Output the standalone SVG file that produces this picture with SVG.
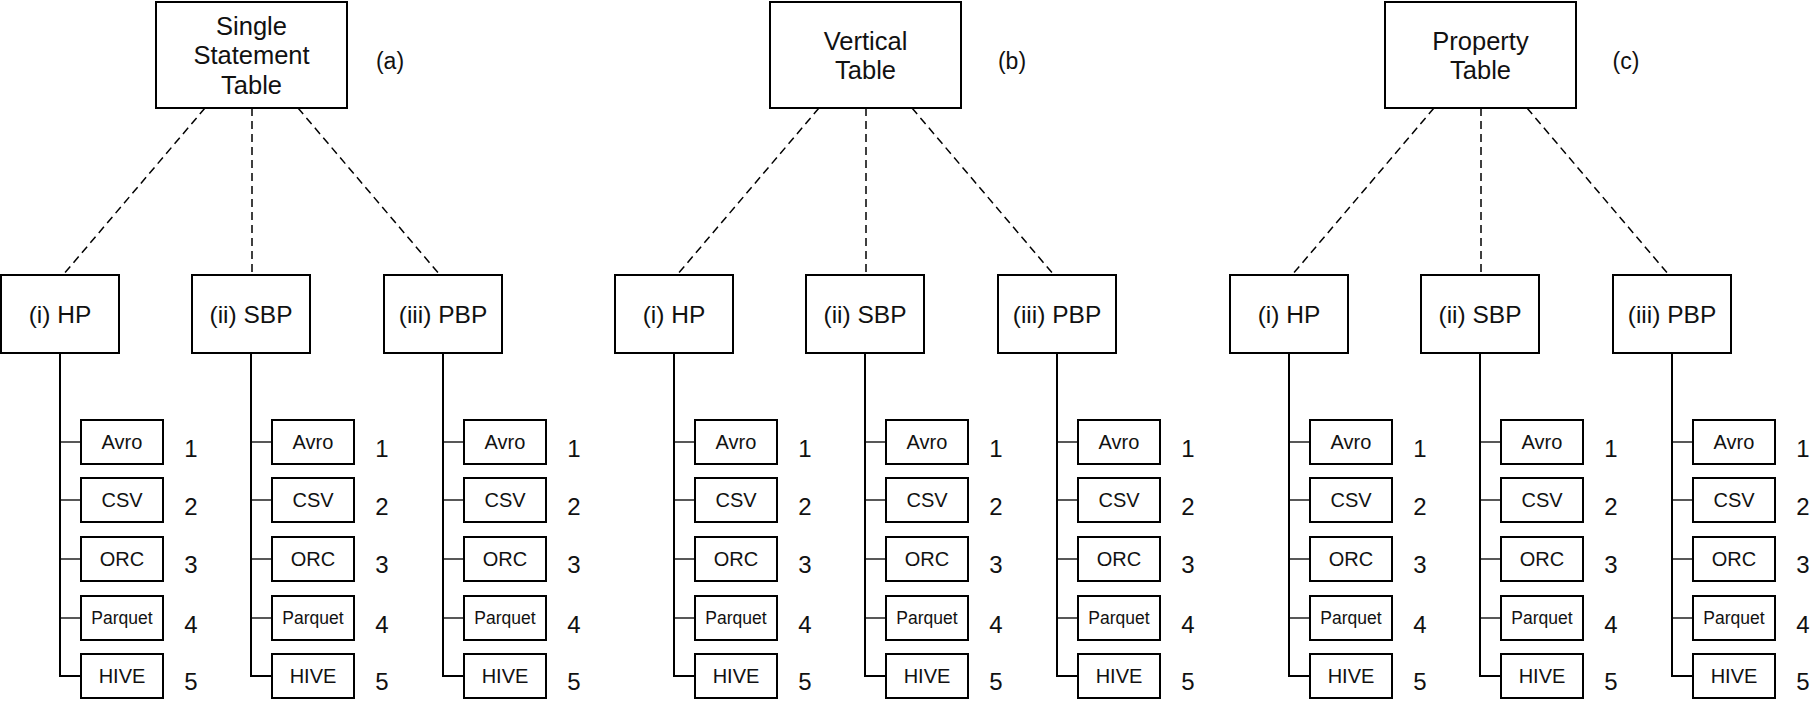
<svg xmlns="http://www.w3.org/2000/svg" width="1817" height="720" viewBox="0 0 1817 720">
<style>
.box{fill:#fff;stroke:#000;stroke-width:2}
.t{font-family:"Liberation Sans",Arial,Helvetica,sans-serif;fill:#111;text-anchor:middle}
.root{font-size:25.5px}
.child{font-size:24.5px}
.fmt{font-size:20px}
.pq{font-size:17.5px}
.num{font-size:24px}
.lab{font-size:23px}
.dash{stroke:#000;stroke-width:1.5;stroke-dasharray:8 5;fill:none}
.trunk{stroke:#000;stroke-width:2;fill:none}
.tick{stroke:#222;stroke-width:1.3;fill:none}
</style>
<rect width="1817" height="720" fill="#fff"/>

<g id="connectors">
  <g id="conn-a">
    <path class="dash" d="M205,108 L63,275"/>
    <path class="dash" d="M252,108 L252,275"/>
    <path class="dash" d="M298,108 L440,275"/>
    <g transform="translate(60,0)"><path class="tick" d="M0,442H21M0,500H21M0,559H21M0,618H21"/><path class="trunk" d="M0,353V676H21"/></g>
    <g transform="translate(251,0)"><path class="tick" d="M0,442H21M0,500H21M0,559H21M0,618H21"/><path class="trunk" d="M0,353V676H21"/></g>
    <g transform="translate(443,0)"><path class="tick" d="M0,442H21M0,500H21M0,559H21M0,618H21"/><path class="trunk" d="M0,353V676H21"/></g>
  </g>
  <g id="conn-b" transform="translate(614,0)">
    <path class="dash" d="M205,108 L63,275"/>
    <path class="dash" d="M252,108 L252,275"/>
    <path class="dash" d="M298,108 L440,275"/>
    <g transform="translate(60,0)"><path class="tick" d="M0,442H21M0,500H21M0,559H21M0,618H21"/><path class="trunk" d="M0,353V676H21"/></g>
    <g transform="translate(251,0)"><path class="tick" d="M0,442H21M0,500H21M0,559H21M0,618H21"/><path class="trunk" d="M0,353V676H21"/></g>
    <g transform="translate(443,0)"><path class="tick" d="M0,442H21M0,500H21M0,559H21M0,618H21"/><path class="trunk" d="M0,353V676H21"/></g>
  </g>
  <g id="conn-c" transform="translate(1229,0)">
    <path class="dash" d="M205,108 L63,275"/>
    <path class="dash" d="M252,108 L252,275"/>
    <path class="dash" d="M298,108 L440,275"/>
    <g transform="translate(60,0)"><path class="tick" d="M0,442H21M0,500H21M0,559H21M0,618H21"/><path class="trunk" d="M0,353V676H21"/></g>
    <g transform="translate(251,0)"><path class="tick" d="M0,442H21M0,500H21M0,559H21M0,618H21"/><path class="trunk" d="M0,353V676H21"/></g>
    <g transform="translate(443,0)"><path class="tick" d="M0,442H21M0,500H21M0,559H21M0,618H21"/><path class="trunk" d="M0,353V676H21"/></g>
  </g>
</g>

<!-- Panel (a) -->
<g id="panel-a">
  <g id="a-root"><rect class="box" x="156" y="2" width="191" height="106"/>
    <text class="t root" x="251.5" y="34.5">Single</text><text class="t root" x="251.5" y="64">Statement</text><text class="t root" x="251.5" y="94">Table</text></g>
  <text id="a-label" class="t lab" x="390" y="69">(a)</text>
  <g id="a-hp" transform="translate(60,0)">
    <g id="a-hp-node"><rect class="box" x="-59" y="275" width="118" height="78"/><text class="t child" x="0" y="323">(i) HP</text></g>
    <g id="a-hp-avro"><rect class="box" x="21" y="420" width="82" height="44"/><text class="t fmt" x="62" y="449">Avro</text><text class="t num" x="131" y="457">1</text></g>
    <g id="a-hp-csv"><rect class="box" x="21" y="478" width="82" height="44"/><text class="t fmt" x="62" y="507">CSV</text><text class="t num" x="131" y="515">2</text></g>
    <g id="a-hp-orc"><rect class="box" x="21" y="537" width="82" height="44"/><text class="t fmt" x="62" y="566">ORC</text><text class="t num" x="131" y="573">3</text></g>
    <g id="a-hp-parquet"><rect class="box" x="21" y="596" width="82" height="44"/><text class="t pq" x="62" y="624">Parquet</text><text class="t num" x="131" y="633">4</text></g>
    <g id="a-hp-hive"><rect class="box" x="21" y="654" width="82" height="44"/><text class="t fmt" x="62" y="683">HIVE</text><text class="t num" x="131" y="690">5</text></g>
  </g>
  <g id="a-sbp" transform="translate(251,0)">
    <g id="a-sbp-node"><rect class="box" x="-59" y="275" width="118" height="78"/><text class="t child" x="0" y="323">(ii) SBP</text></g>
    <g id="a-sbp-avro"><rect class="box" x="21" y="420" width="82" height="44"/><text class="t fmt" x="62" y="449">Avro</text><text class="t num" x="131" y="457">1</text></g>
    <g id="a-sbp-csv"><rect class="box" x="21" y="478" width="82" height="44"/><text class="t fmt" x="62" y="507">CSV</text><text class="t num" x="131" y="515">2</text></g>
    <g id="a-sbp-orc"><rect class="box" x="21" y="537" width="82" height="44"/><text class="t fmt" x="62" y="566">ORC</text><text class="t num" x="131" y="573">3</text></g>
    <g id="a-sbp-parquet"><rect class="box" x="21" y="596" width="82" height="44"/><text class="t pq" x="62" y="624">Parquet</text><text class="t num" x="131" y="633">4</text></g>
    <g id="a-sbp-hive"><rect class="box" x="21" y="654" width="82" height="44"/><text class="t fmt" x="62" y="683">HIVE</text><text class="t num" x="131" y="690">5</text></g>
  </g>
  <g id="a-pbp" transform="translate(443,0)">
    <g id="a-pbp-node"><rect class="box" x="-59" y="275" width="118" height="78"/><text class="t child" x="0" y="323">(iii) PBP</text></g>
    <g id="a-pbp-avro"><rect class="box" x="21" y="420" width="82" height="44"/><text class="t fmt" x="62" y="449">Avro</text><text class="t num" x="131" y="457">1</text></g>
    <g id="a-pbp-csv"><rect class="box" x="21" y="478" width="82" height="44"/><text class="t fmt" x="62" y="507">CSV</text><text class="t num" x="131" y="515">2</text></g>
    <g id="a-pbp-orc"><rect class="box" x="21" y="537" width="82" height="44"/><text class="t fmt" x="62" y="566">ORC</text><text class="t num" x="131" y="573">3</text></g>
    <g id="a-pbp-parquet"><rect class="box" x="21" y="596" width="82" height="44"/><text class="t pq" x="62" y="624">Parquet</text><text class="t num" x="131" y="633">4</text></g>
    <g id="a-pbp-hive"><rect class="box" x="21" y="654" width="82" height="44"/><text class="t fmt" x="62" y="683">HIVE</text><text class="t num" x="131" y="690">5</text></g>
  </g>
</g>

<!-- Panel (b) -->
<g id="panel-b" transform="translate(614,0)">
  <g id="b-root"><rect class="box" x="156" y="2" width="191" height="106"/>
    <text class="t root" x="251.5" y="50">Vertical</text><text class="t root" x="251.5" y="79">Table</text></g>
  <text id="b-label" class="t lab" x="398" y="69">(b)</text>
  <g id="b-hp" transform="translate(60,0)">
    <g id="b-hp-node"><rect class="box" x="-59" y="275" width="118" height="78"/><text class="t child" x="0" y="323">(i) HP</text></g>
    <g id="b-hp-avro"><rect class="box" x="21" y="420" width="82" height="44"/><text class="t fmt" x="62" y="449">Avro</text><text class="t num" x="131" y="457">1</text></g>
    <g id="b-hp-csv"><rect class="box" x="21" y="478" width="82" height="44"/><text class="t fmt" x="62" y="507">CSV</text><text class="t num" x="131" y="515">2</text></g>
    <g id="b-hp-orc"><rect class="box" x="21" y="537" width="82" height="44"/><text class="t fmt" x="62" y="566">ORC</text><text class="t num" x="131" y="573">3</text></g>
    <g id="b-hp-parquet"><rect class="box" x="21" y="596" width="82" height="44"/><text class="t pq" x="62" y="624">Parquet</text><text class="t num" x="131" y="633">4</text></g>
    <g id="b-hp-hive"><rect class="box" x="21" y="654" width="82" height="44"/><text class="t fmt" x="62" y="683">HIVE</text><text class="t num" x="131" y="690">5</text></g>
  </g>
  <g id="b-sbp" transform="translate(251,0)">
    <g id="b-sbp-node"><rect class="box" x="-59" y="275" width="118" height="78"/><text class="t child" x="0" y="323">(ii) SBP</text></g>
    <g id="b-sbp-avro"><rect class="box" x="21" y="420" width="82" height="44"/><text class="t fmt" x="62" y="449">Avro</text><text class="t num" x="131" y="457">1</text></g>
    <g id="b-sbp-csv"><rect class="box" x="21" y="478" width="82" height="44"/><text class="t fmt" x="62" y="507">CSV</text><text class="t num" x="131" y="515">2</text></g>
    <g id="b-sbp-orc"><rect class="box" x="21" y="537" width="82" height="44"/><text class="t fmt" x="62" y="566">ORC</text><text class="t num" x="131" y="573">3</text></g>
    <g id="b-sbp-parquet"><rect class="box" x="21" y="596" width="82" height="44"/><text class="t pq" x="62" y="624">Parquet</text><text class="t num" x="131" y="633">4</text></g>
    <g id="b-sbp-hive"><rect class="box" x="21" y="654" width="82" height="44"/><text class="t fmt" x="62" y="683">HIVE</text><text class="t num" x="131" y="690">5</text></g>
  </g>
  <g id="b-pbp" transform="translate(443,0)">
    <g id="b-pbp-node"><rect class="box" x="-59" y="275" width="118" height="78"/><text class="t child" x="0" y="323">(iii) PBP</text></g>
    <g id="b-pbp-avro"><rect class="box" x="21" y="420" width="82" height="44"/><text class="t fmt" x="62" y="449">Avro</text><text class="t num" x="131" y="457">1</text></g>
    <g id="b-pbp-csv"><rect class="box" x="21" y="478" width="82" height="44"/><text class="t fmt" x="62" y="507">CSV</text><text class="t num" x="131" y="515">2</text></g>
    <g id="b-pbp-orc"><rect class="box" x="21" y="537" width="82" height="44"/><text class="t fmt" x="62" y="566">ORC</text><text class="t num" x="131" y="573">3</text></g>
    <g id="b-pbp-parquet"><rect class="box" x="21" y="596" width="82" height="44"/><text class="t pq" x="62" y="624">Parquet</text><text class="t num" x="131" y="633">4</text></g>
    <g id="b-pbp-hive"><rect class="box" x="21" y="654" width="82" height="44"/><text class="t fmt" x="62" y="683">HIVE</text><text class="t num" x="131" y="690">5</text></g>
  </g>
</g>

<!-- Panel (c) -->
<g id="panel-c" transform="translate(1229,0)">
  <g id="c-root"><rect class="box" x="156" y="2" width="191" height="106"/>
    <text class="t root" x="251.5" y="50">Property</text><text class="t root" x="251.5" y="79">Table</text></g>
  <text id="c-label" class="t lab" x="397" y="69">(c)</text>
  <g id="c-hp" transform="translate(60,0)">
    <g id="c-hp-node"><rect class="box" x="-59" y="275" width="118" height="78"/><text class="t child" x="0" y="323">(i) HP</text></g>
    <g id="c-hp-avro"><rect class="box" x="21" y="420" width="82" height="44"/><text class="t fmt" x="62" y="449">Avro</text><text class="t num" x="131" y="457">1</text></g>
    <g id="c-hp-csv"><rect class="box" x="21" y="478" width="82" height="44"/><text class="t fmt" x="62" y="507">CSV</text><text class="t num" x="131" y="515">2</text></g>
    <g id="c-hp-orc"><rect class="box" x="21" y="537" width="82" height="44"/><text class="t fmt" x="62" y="566">ORC</text><text class="t num" x="131" y="573">3</text></g>
    <g id="c-hp-parquet"><rect class="box" x="21" y="596" width="82" height="44"/><text class="t pq" x="62" y="624">Parquet</text><text class="t num" x="131" y="633">4</text></g>
    <g id="c-hp-hive"><rect class="box" x="21" y="654" width="82" height="44"/><text class="t fmt" x="62" y="683">HIVE</text><text class="t num" x="131" y="690">5</text></g>
  </g>
  <g id="c-sbp" transform="translate(251,0)">
    <g id="c-sbp-node"><rect class="box" x="-59" y="275" width="118" height="78"/><text class="t child" x="0" y="323">(ii) SBP</text></g>
    <g id="c-sbp-avro"><rect class="box" x="21" y="420" width="82" height="44"/><text class="t fmt" x="62" y="449">Avro</text><text class="t num" x="131" y="457">1</text></g>
    <g id="c-sbp-csv"><rect class="box" x="21" y="478" width="82" height="44"/><text class="t fmt" x="62" y="507">CSV</text><text class="t num" x="131" y="515">2</text></g>
    <g id="c-sbp-orc"><rect class="box" x="21" y="537" width="82" height="44"/><text class="t fmt" x="62" y="566">ORC</text><text class="t num" x="131" y="573">3</text></g>
    <g id="c-sbp-parquet"><rect class="box" x="21" y="596" width="82" height="44"/><text class="t pq" x="62" y="624">Parquet</text><text class="t num" x="131" y="633">4</text></g>
    <g id="c-sbp-hive"><rect class="box" x="21" y="654" width="82" height="44"/><text class="t fmt" x="62" y="683">HIVE</text><text class="t num" x="131" y="690">5</text></g>
  </g>
  <g id="c-pbp" transform="translate(443,0)">
    <g id="c-pbp-node"><rect class="box" x="-59" y="275" width="118" height="78"/><text class="t child" x="0" y="323">(iii) PBP</text></g>
    <g id="c-pbp-avro"><rect class="box" x="21" y="420" width="82" height="44"/><text class="t fmt" x="62" y="449">Avro</text><text class="t num" x="131" y="457">1</text></g>
    <g id="c-pbp-csv"><rect class="box" x="21" y="478" width="82" height="44"/><text class="t fmt" x="62" y="507">CSV</text><text class="t num" x="131" y="515">2</text></g>
    <g id="c-pbp-orc"><rect class="box" x="21" y="537" width="82" height="44"/><text class="t fmt" x="62" y="566">ORC</text><text class="t num" x="131" y="573">3</text></g>
    <g id="c-pbp-parquet"><rect class="box" x="21" y="596" width="82" height="44"/><text class="t pq" x="62" y="624">Parquet</text><text class="t num" x="131" y="633">4</text></g>
    <g id="c-pbp-hive"><rect class="box" x="21" y="654" width="82" height="44"/><text class="t fmt" x="62" y="683">HIVE</text><text class="t num" x="131" y="690">5</text></g>
  </g>
</g>
</svg>
